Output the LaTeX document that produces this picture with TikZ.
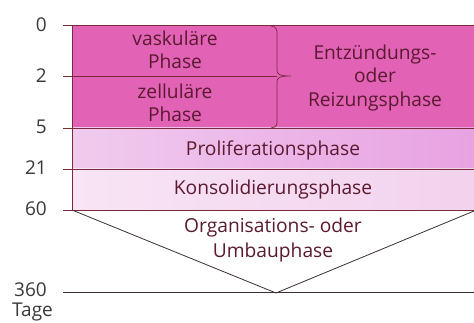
\documentclass[tikz,border=0pt]{standalone}
\usepackage{fontspec}
\setmainfont{Open Sans}
\begin{document}
\begin{tikzpicture}[x=1pt,y=-1pt,
  lbl/.style={font=\fontsize{19.2}{23.5}\selectfont, text=textc, align=center, inner sep=0pt},
  num/.style={font=\fontsize{19}{22}\selectfont, text=numc, anchor=east, inner sep=0pt},
  band/.style={draw=linec, line width=0.9pt},
  tri/.style={draw=tric, line width=0.8pt}]
\definecolor{textc}{HTML}{5A1A30}
\definecolor{numc}{HTML}{3A3A3A}
\definecolor{linec}{HTML}{7A2A3A}
\definecolor{tric}{HTML}{3A3030}
\definecolor{topc}{HTML}{E262B6}
\definecolor{proL}{HTML}{F0CBEE}
\definecolor{proR}{HTML}{E8A2E2}
\definecolor{konL}{HTML}{F8E4F4}
\definecolor{konR}{HTML}{F2D2EE}
\useasboundingbox[fill=white] (0,0) rectangle (474,323);
% bands
\fill[topc] (72,25) rectangle (474,128);
\shade[left color=proL, right color=proR] (72,128) rectangle (474,169);
\shade[left color=konL, right color=konR] (72,169) rectangle (474,210);
% horizontal lines
\draw[band] (63,25) -- (474,25);
\draw[band] (63,76) -- (277,76);
\draw[band] (63,128) -- (474,128);
\draw[band] (63,169) -- (474,169);
\draw[band] (63,210) -- (474,210);
\draw[band] (72,25) -- (72,210);
\draw[tri] (63,292) -- (474,292);
% brace
\draw[band, line width=0.7pt] (271,26) .. controls (277,27) and (277,30) .. (277,34) -- (277,70)
  .. controls (277,74) and (279,76) .. (291,76)
  .. controls (279,76) and (277,78) .. (277,82) -- (277,120)
  .. controls (277,125) and (277,127) .. (271,128);
% triangle
\coordinate (tl) at (72,210);
\coordinate (ap) at (276,293);
\coordinate (tr) at (474,211);
\draw[tri] (tl) -- (ap) -- (tr);
% numbers
\node[num] (n0) at (47,25) {0};
\node[num] (n2) at (47,76) {2};
\node[num] (n5) at (47,127) {5};
\node[num] (n21) at (47,168) {21};
\node[num] (n60) at (47,209) {60};
\node[num] (n360) at (47,290) {360};
\node[num, anchor=west] (tage) at (12,312) {Tage};
% labels
\node[lbl] (vask) at (175,50) {vaskuläre\\Phase};
\node[lbl] (zell) at (175,103) {zelluläre\\Phase};
\node[lbl] (entz) at (375,78) {Entzündungs-\\oder\\Reizungsphase};
\node[lbl] (prol) at (273,150) {Proliferationsphase};
\node[lbl] (kons) at (273,190) {Konsolidierungsphase};
\node[lbl, font=\fontsize{19.2}{25}\selectfont] (orga) at (273,240) {Organisations- oder\\Umbauphase};
\end{tikzpicture}
\end{document}
